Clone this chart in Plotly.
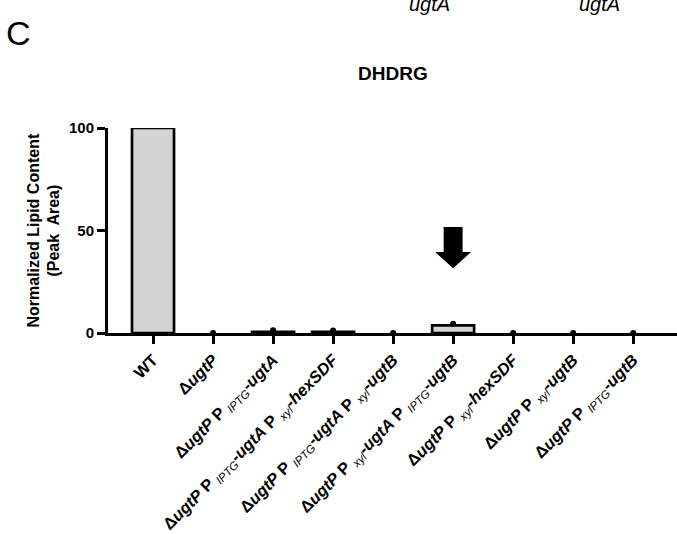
import plotly.graph_objects as go

# ---- data ----
strain_labels = [
    "<b>WT</b>",
    "<b>Δ<i>ugtP</i></b>",
    "<b>Δ<i>ugtP</i> P <sub><span style='font-weight:normal;font-style:italic'>IPTG</span></sub>-<i>ugtA</i></b>",
    "<b>Δ<i>ugtP</i> P <sub><span style='font-weight:normal;font-style:italic'>IPTG</span></sub>-<i>ugtA</i> P <sub><span style='font-weight:normal;font-style:italic'>xyl</span></sub>-<i>hexSDF</i></b>",
    "<b>Δ<i>ugtP</i> P <sub><span style='font-weight:normal;font-style:italic'>IPTG</span></sub>-<i>ugtA</i> P <sub><span style='font-weight:normal;font-style:italic'>xyl</span></sub>-<i>ugtB</i></b>",
    "<b>Δ<i>ugtP</i> P <sub><span style='font-weight:normal;font-style:italic'>xyl</span></sub>-<i>ugtA</i> P <sub><span style='font-weight:normal;font-style:italic'>IPTG</span></sub>-<i>ugtB</i></b>",
    "<b>Δ<i>ugtP</i> P <sub><span style='font-weight:normal;font-style:italic'>xyl</span></sub>-<i>hexSDF</i></b>",
    "<b>Δ<i>ugtP</i> P <sub><span style='font-weight:normal;font-style:italic'>xyl</span></sub>-<i>ugtB</i></b>",
    "<b>Δ<i>ugtP</i> P <sub><span style='font-weight:normal;font-style:italic'>IPTG</span></sub>-<i>ugtB</i></b>",
]
bar_values = [100, 0, 0.6, 0.5, 0, 3.7, 0, 0, 0]
point_values = [100.4, 0, 1.4, 1.2, 0, 4.5, 0, 0, 0]
y_ticks = [0, 50, 100]
highlight_index = 5
panel_title = "DHDRG"

x_pos = list(range(len(strain_labels)))

FONT = "Liberation Sans, Arial, sans-serif"
W, H = 677, 534
ml, mr, mt, mb = 108, 0, 128, 201
plot_h = H - mt - mb

def py(pix_y):
    # pixel y (from top) -> paper y
    return (H - mb - pix_y) / plot_h

def px(pix_x):
    return (pix_x - ml) / (W - ml - mr)

fig = go.Figure()
fig.add_trace(go.Bar(
    x=x_pos, y=bar_values, width=0.7,
    marker=dict(color="#d4d4d4",
                line=dict(color="black", width=[2.7 if v > 0 else 0 for v in bar_values])),
    showlegend=False, cliponaxis=False,
))
fig.add_trace(go.Scatter(
    x=x_pos, y=point_values, mode="markers",
    marker=dict(color="black", size=6),
    showlegend=False, cliponaxis=False,
))

# downward arrow over highlighted strain
cx = highlight_index
sw, hw = 0.158, 0.30
y_top, y_neck, y_tip = 51.7, 39.5, 31.6
path = (f"M {cx-sw} {y_top} L {cx+sw} {y_top} L {cx+sw} {y_neck} L {cx+hw} {y_neck} "
        f"L {cx} {y_tip} L {cx-hw} {y_neck} L {cx-sw} {y_neck} Z")
fig.add_shape(type="path", path=path, xref="x", yref="y",
              fillcolor="black", line=dict(color="black", width=0))

annos = [
    dict(text=f"<b>{panel_title}</b>", x=0.5, y=py(86), xref="paper", yref="paper",
         xanchor="center", yanchor="bottom", showarrow=False,
         font=dict(family=FONT, size=19, color="black")),
    dict(text="<b>Normalized Lipid Content<br>(Peak  Area)</b>", x=px(43), y=0.5,
         xref="paper", yref="paper", xanchor="center", yanchor="middle",
         textangle=-90, showarrow=False,
         font=dict(family=FONT, size=16, color="black")),
    dict(text="C", x=px(4), y=py(54), xref="paper", yref="paper",
         xanchor="left", yanchor="bottom", showarrow=False,
         font=dict(family=FONT, size=34, color="black")),
    dict(text="<i>ugtA</i>", x=px(429), y=py(17), xref="paper", yref="paper",
         xanchor="center", yanchor="bottom", showarrow=False,
         font=dict(family=FONT, size=20, color="black")),
    dict(text="<i>ugtA</i>", x=px(599), y=py(17), xref="paper", yref="paper",
         xanchor="center", yanchor="bottom", showarrow=False,
         font=dict(family=FONT, size=20, color="black")),
]

fig.update_layout(
    width=W, height=H,
    margin=dict(l=ml, r=mr, t=mt, b=mb, pad=0, autoexpand=False),
    plot_bgcolor="white", paper_bgcolor="white",
    font=dict(family=FONT, color="black"),
    annotations=annos,
)
fig.update_xaxes(
    range=[-0.75, 8.73], tickmode="array", tickvals=x_pos, ticktext=strain_labels,
    tickangle=-45, ticks="outside", ticklen=8, tickwidth=3, tickcolor="black",
    showline=True, linecolor="black", linewidth=3, showgrid=False, zeroline=False,
    tickfont=dict(family=FONT, size=16.5, color="black"), automargin=False,
)
fig.update_yaxes(
    range=[0, 100], tickmode="array", tickvals=y_ticks,
    ticktext=[f"<b>{v}</b>" for v in y_ticks],
    ticks="outside", ticklen=8, tickwidth=3, tickcolor="black",
    showline=True, linecolor="black", linewidth=3, showgrid=False, zeroline=False,
    tickfont=dict(family=FONT, size=15, color="black"), automargin=False,
)

fig.write_html(
    "out.html",
    config={"displayModeBar": False},
    post_script="document.body.style.margin='0';document.body.style.overflow='hidden';",
)
